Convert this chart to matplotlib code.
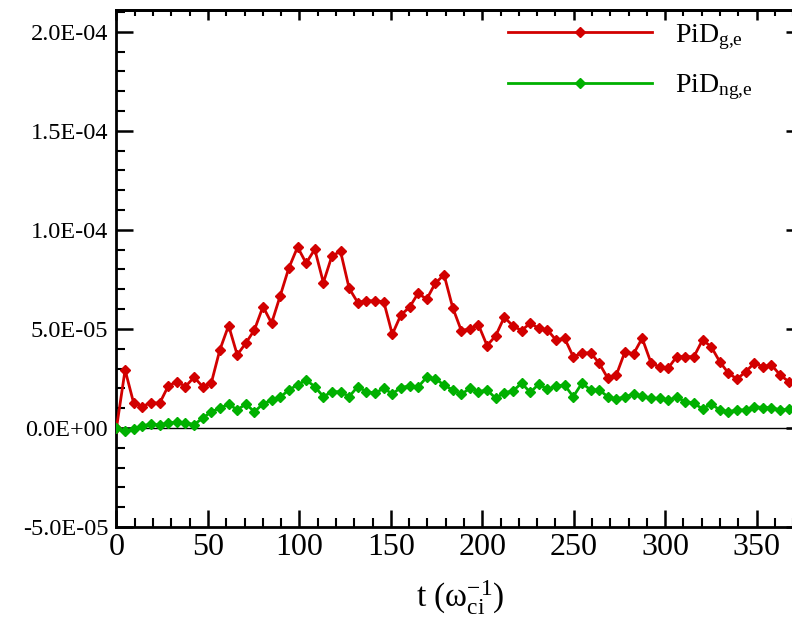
import matplotlib
matplotlib.use("Agg")
import matplotlib.pyplot as plt
from matplotlib.ticker import MultipleLocator, FuncFormatter

plt.rcParams['font.family'] = ['Liberation Serif', 'DejaVu Serif']
plt.rcParams['mathtext.fontset'] = 'custom'
plt.rcParams['mathtext.rm'] = 'Liberation Serif'
plt.rcParams['mathtext.it'] = 'Liberation Serif:italic'

# time samples (omega_ci^-1)
t = [0.0, 4.7, 9.4, 14.1, 18.8, 23.6, 28.3, 33.0, 37.7, 42.4,
     47.1, 51.8, 56.5, 61.3, 66.0, 70.7, 75.4, 80.1, 84.8, 89.5,
     94.2, 99.0, 103.7, 108.4, 113.1, 117.8, 122.5, 127.2, 131.9, 136.6,
     141.4, 146.1, 150.8, 155.5, 160.2, 164.9, 169.6, 174.3, 179.1, 183.8,
     188.5, 193.2, 197.9, 202.6, 207.3, 212.0, 216.8, 221.5, 226.2, 230.9,
     235.6, 240.3, 245.0, 249.7, 254.5, 259.2, 263.9, 268.6, 273.3, 278.0,
     282.7, 287.4, 292.2, 296.9, 301.6, 306.3, 311.0, 315.7, 320.4, 325.1,
     329.8, 334.6, 339.3, 344.0, 348.7, 353.4, 358.1, 362.8, 367.5]

# PiD_g,e  (units of 1e-5)
pid_g = [0.0, 2.93, 1.25, 1.08, 1.28, 1.25, 2.12, 2.34, 2.09, 2.56,
         2.09, 2.26, 3.94, 5.17, 3.69, 4.28, 4.95, 6.13, 5.29, 6.67,
         8.07, 9.13, 8.32, 9.02, 7.34, 8.69, 8.91, 7.05, 6.33, 6.43,
         6.41, 6.38, 4.73, 5.71, 6.09, 6.80, 6.50, 7.31, 7.73, 6.08,
         4.92, 5.00, 5.20, 4.16, 4.65, 5.59, 5.15, 4.92, 5.29, 5.03,
         4.95, 4.44, 4.53, 3.60, 3.77, 3.80, 3.27, 2.51, 2.68, 3.85,
         3.74, 4.53, 3.30, 3.07, 3.02, 3.60, 3.60, 3.60, 4.44, 4.11,
         3.35, 2.76, 2.47, 2.84, 3.27, 3.10, 3.18, 2.68, 2.34]

# PiD_ng,e (units of 1e-5)
pid_ng = [0.0, -0.15, -0.05, 0.10, 0.20, 0.15, 0.25, 0.30, 0.27, 0.17,
          0.49, 0.82, 0.99, 1.21, 0.91, 1.21, 0.82, 1.21, 1.41, 1.55,
          1.92, 2.17, 2.42, 2.09, 1.58, 1.83, 1.83, 1.58, 2.09, 1.83,
          1.76, 2.00, 1.72, 2.04, 2.12, 2.07, 2.56, 2.48, 2.17, 1.92,
          1.70, 2.00, 1.83, 1.92, 1.50, 1.78, 1.87, 2.26, 1.80, 2.21,
          1.95, 2.12, 2.17, 1.58, 2.26, 1.92, 1.92, 1.58, 1.46, 1.58,
          1.71, 1.60, 1.50, 1.50, 1.41, 1.55, 1.33, 1.25, 0.96, 1.21,
          0.91, 0.82, 0.91, 0.91, 1.08, 1.03, 1.03, 0.91, 0.94]

g_vals = [v * 1e-5 for v in pid_g]
ng_vals = [v * 1e-5 for v in pid_ng]

W, H = 792, 617
fig = plt.figure(figsize=(W / 100, H / 100), dpi=100)
left, right, top, bottom = 116.5, 803, 10, 527
ax = fig.add_axes([left / W, 1 - bottom / H, (right - left) / W, (bottom - top) / H])

red = '#d20000'
green = '#00b000'
ax.axhline(0, color='black', lw=1.0, zorder=1)
ax.plot(t, g_vals, color=red, lw=2.0, marker='D', ms=4.6, mec=red, mfc=red,
        label=r'PiD$_{\mathrm{g{,}e}}$', zorder=3)
ax.plot(t, ng_vals, color=green, lw=2.0, marker='D', ms=4.6, mec=green, mfc=green,
        label=r'PiD$_{\mathrm{ng{,}e}}$', zorder=3)

ax.set_xlim(0, (right - left) / 1.829)
ax.set_ylim(-5e-5, 2.11e-4)

ax.xaxis.set_major_locator(MultipleLocator(50))
ax.xaxis.set_minor_locator(MultipleLocator(10))
ax.yaxis.set_major_locator(MultipleLocator(5e-5))
ax.yaxis.set_minor_locator(MultipleLocator(1e-5))

def sci(v, pos):
    if abs(v) < 1e-12:
        return '0.0E+00'
    return '%.1E' % v
ax.yaxis.set_major_formatter(FuncFormatter(sci))

for sp in ax.spines.values():
    sp.set_linewidth(2.0)

ax.tick_params(axis='both', which='major', direction='in', length=12, width=1.8,
               top=False, right=False)
ax.tick_params(axis='both', which='minor', direction='in', length=6.5, width=1.5,
               top=False, right=False)
ax.tick_params(axis='x', which='major', labelsize=23, pad=4)
ax.tick_params(axis='y', which='major', labelsize=17.5, pad=6)

# top and right ticks
secx = ax.secondary_xaxis('top')
secx.xaxis.set_major_locator(MultipleLocator(50))
secx.xaxis.set_minor_locator(MultipleLocator(10))
secx.tick_params(which='major', direction='in', length=7, width=1.8, labeltop=False)
secx.tick_params(which='minor', direction='in', length=4.5, width=1.5)
secx.spines['top'].set_linewidth(2.0)
secy = ax.secondary_yaxis('right')
secy.yaxis.set_major_locator(MultipleLocator(5e-5))
secy.yaxis.set_minor_locator(MultipleLocator(1e-5))
secy.tick_params(which='major', direction='in', length=12, width=1.8, labelright=False)
secy.tick_params(which='minor', direction='in', length=6.5, width=1.5)

ax.set_xlabel(r't ($\mathrm{\omega}_{\mathrm{ci}}^{\mathrm{-1}}$)', fontsize=24, labelpad=12)

leg = ax.legend(loc='upper left', bbox_to_anchor=(508 / W, 1 - 22 / H),
                bbox_transform=fig.transFigure, frameon=False, fontsize=20,
                handlelength=5.2, handletextpad=0.8, labelspacing=0.75,
                borderaxespad=0, borderpad=0, numpoints=1)

fig.savefig('out.png', dpi=100)
